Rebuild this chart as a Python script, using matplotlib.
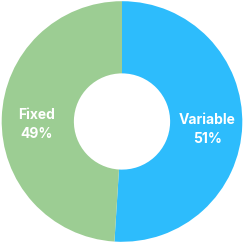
import matplotlib
matplotlib.use("Agg")
import matplotlib.pyplot as plt
import numpy as np

# data
labels = ["Variable", "Fixed"]
shares = [51, 49]
colors = ["#2DBCFC", "#9CCD93"]

fig = plt.figure(figsize=(2.44, 2.43), dpi=100)
ax = fig.add_axes([0, 0, 1, 1])

wedges, texts = ax.pie(shares, colors=colors, startangle=90, counterclock=False,
                       radius=1.0, wedgeprops={"width": 0.6, "linewidth": 0})

for w, lab, val in zip(wedges, labels, shares):
    ang = np.deg2rad((w.theta1 + w.theta2) / 2)
    r = 0.71
    ax.text(r * np.cos(ang), r * np.sin(ang) - 0.045, f"{lab}\n{val}%",
            ha="center", va="center", color="white", fontsize=10,
            fontweight="bold", family="Inter", linespacing=1.45)

ax.set_xlim(-1.01, 1.01)
ax.set_ylim(-1.01, 1.01)
ax.set_aspect("equal")
ax.axis("off")

plt.savefig("out.png", dpi=100)
